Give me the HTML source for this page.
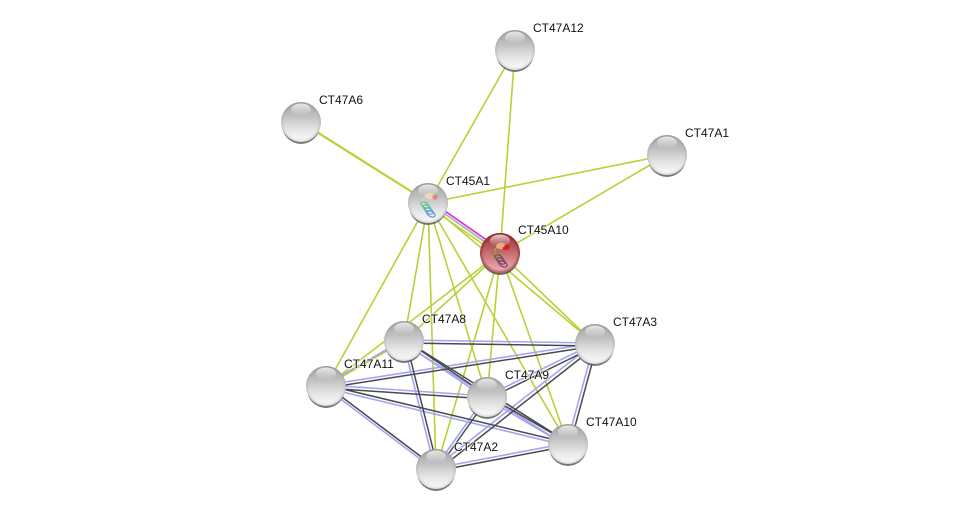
<!DOCTYPE html>
<html>
<head>
<meta charset="utf-8">
<style>
html,body{margin:0;padding:0;background:#fff;width:975px;height:514px;overflow:hidden}
svg{display:block}
text{font-family:"Liberation Sans",sans-serif;font-size:12px;fill:#111;paint-order:stroke;stroke:rgba(255,255,255,.65);stroke-width:2px}
.g{stroke:#b6d335;stroke-width:1.6;fill:none}
.b{stroke:#a4a4f6;stroke-width:1.6;fill:none}
.d{stroke:#4a4a4a;stroke-width:1.5;fill:none}
</style>
</head>
<body>
<svg width="975" height="514" viewBox="0 0 975 514" xmlns="http://www.w3.org/2000/svg">
<defs>
<linearGradient id="gs" x1="0" y1="0" x2="0" y2="1">
<stop offset="0" stop-color="#a2a2a2"/><stop offset=".35" stop-color="#c0c0c0"/><stop offset=".7" stop-color="#e6e6e6"/><stop offset="1" stop-color="#fbfbfb"/>
</linearGradient>
<radialGradient id="edge" cx=".5" cy=".5" r=".5">
<stop offset=".85" stop-color="#888" stop-opacity="0"/><stop offset="1" stop-color="#888" stop-opacity=".3"/>
</radialGradient>
<linearGradient id="hl" x1="0" y1="0" x2="0" y2="1">
<stop offset="0" stop-color="#fff" stop-opacity=".75"/><stop offset="1" stop-color="#fff" stop-opacity="0"/>
</linearGradient>
<linearGradient id="rs" x1="0" y1="0" x2="0" y2="1">
<stop offset="0" stop-color="#962e34"/><stop offset=".35" stop-color="#b8585e"/><stop offset=".7" stop-color="#d98a90"/><stop offset="1" stop-color="#eeb4b8"/>
</linearGradient>
<radialGradient id="redge" cx=".5" cy=".5" r=".5">
<stop offset=".82" stop-color="#7c1a1e" stop-opacity="0"/><stop offset="1" stop-color="#7c1a1e" stop-opacity=".6"/>
</radialGradient>
<g id="ball">
<ellipse cx="0" cy="3" rx="19" ry="19" fill="#555" opacity=".8"/>
<circle r="20" fill="url(#gs)"/>
<circle r="20" fill="url(#edge)"/>
<ellipse cx="0" cy="-12.5" rx="10" ry="6" fill="url(#hl)"/>
</g>
</defs>

<!-- green edges -->
<g class="g">
<line x1="428" y1="203" x2="515" y2="50"/>
<line x1="500" y1="253" x2="515" y2="50"/>
<line x1="428" y1="203" x2="667" y2="155"/>
<line x1="500" y1="253" x2="667" y2="155"/>
<line x1="301" y1="122" x2="428" y2="202" stroke-width="2.2"/>
<line x1="428" y1="202" x2="500" y2="253"/>
<line x1="428" y1="203" x2="404" y2="341"/>
<line x1="428" y1="203" x2="326" y2="386"/>
<line x1="428" y1="203" x2="436" y2="469"/>
<line x1="428" y1="203" x2="487" y2="397"/>
<line x1="428" y1="203" x2="568" y2="444"/>
<line x1="428" y1="203" x2="595" y2="344"/>
<line x1="428" y1="206" x2="500" y2="256"/>
<line x1="500" y1="253" x2="404" y2="341"/>
<line x1="500" y1="253" x2="326" y2="386"/>
<line x1="500" y1="253" x2="436" y2="469"/>
<line x1="500" y1="253" x2="487" y2="397"/>
<line x1="500" y1="253" x2="568" y2="444"/>
<line x1="500" y1="253" x2="595" y2="344"/>
<line x1="326" y1="386" x2="404" y2="341"/>
</g>
<line x1="429" y1="200" x2="501" y2="250" stroke="#d63fd6" stroke-width="1.7"/>
<line x1="428" y1="202" x2="500" y2="252" stroke="#a6a6f2" stroke-width="1.2"/>

<!-- blue edges -->
<g class="b">
<line x1="404" y1="340" x2="595" y2="343"/>
<line x1="326" y1="385" x2="595" y2="343"/>
<line x1="326" y1="385" x2="487" y2="396"/>
<line x1="326" y1="388" x2="568" y2="446"/>
<line x1="326" y1="388" x2="436" y2="471"/>
<line x1="325" y1="385" x2="403" y2="340"/>
<line x1="403" y1="341" x2="435" y2="469"/>
<line x1="404" y1="343" x2="487" y2="399"/>
<line x1="403" y1="343" x2="567" y2="446"/>
<line x1="487" y1="396" x2="595" y2="343"/>
<line x1="487" y1="399" x2="567" y2="446"/>
<line x1="486" y1="396" x2="435" y2="468"/>
<line x1="567" y1="444" x2="594" y2="344"/>
<line x1="568" y1="443" x2="436" y2="468"/>
<line x1="594" y1="343" x2="435" y2="468"/>
</g>
<!-- dark edges -->
<g class="d">
<line x1="404" y1="343" x2="595" y2="346"/>
<line x1="326" y1="388" x2="595" y2="346"/>
<line x1="326" y1="388" x2="487" y2="399"/>
<line x1="326" y1="385" x2="568" y2="443"/>
<line x1="326" y1="385" x2="436" y2="468"/>
<line x1="406" y1="341" x2="438" y2="469"/>
<line x1="405" y1="340" x2="488" y2="396"/>
<line x1="405" y1="340" x2="569" y2="443"/>
<line x1="488" y1="399" x2="596" y2="346"/>
<line x1="488" y1="396" x2="569" y2="443"/>
<line x1="488" y1="398" x2="437" y2="470"/>
<line x1="570" y1="445" x2="597" y2="345"/>
<line x1="568" y1="446" x2="436" y2="471"/>
<line x1="596" y1="346" x2="437" y2="471"/>
</g>

<!-- nodes -->
<use href="#ball" x="515" y="50"/>
<use href="#ball" x="301" y="122"/>
<use href="#ball" x="667" y="155"/>
<use href="#ball" x="428" y="203"/>
<use href="#ball" x="404" y="341"/>
<use href="#ball" x="595" y="344"/>
<use href="#ball" x="326" y="386"/>
<use href="#ball" x="487" y="397"/>
<use href="#ball" x="568" y="444"/>
<use href="#ball" x="436" y="469"/>

<!-- CT45A1 structure -->
<g transform="translate(428,207)">
<path d="M-4,-3 C-7,-8 -2,-11 0,-12" fill="none" stroke="#cfe3a8" stroke-width="1"/>
<ellipse cx="2" cy="-11" rx="5" ry="3.2" fill="#ecd9b8" opacity=".9"/>
<circle cx="7" cy="-10" r="2.6" fill="#e08a78"/>
<g fill="none" stroke-width="1.2">
<ellipse cx="-3" cy="-2" rx="4.5" ry="2.6" transform="rotate(30 -3 -2)" stroke="#66c47c"/>
<ellipse cx="-1" cy="1" rx="4.5" ry="2.6" transform="rotate(30 -1 1)" stroke="#5cc0a0"/>
<ellipse cx="1" cy="4" rx="4.5" ry="2.6" transform="rotate(30 1 4)" stroke="#58a8c8"/>
<ellipse cx="3" cy="7" rx="4.5" ry="2.6" transform="rotate(30 3 7)" stroke="#5c8fd8"/>
</g>
</g>

<!-- CT45A10 red node -->
<g transform="translate(500,253)">
<ellipse cx="0" cy="3" rx="19" ry="19" fill="#5a3a3a" opacity=".8"/>
<circle r="20" fill="url(#rs)"/>
<circle r="20" fill="url(#redge)"/>
<ellipse cx="0" cy="-12.5" rx="10" ry="6" fill="url(#hl)"/>
<g transform="translate(0,4)">
<path d="M-4,-3 C-7,-8 -2,-11 0,-12" fill="none" stroke="#c6a05e" stroke-width="1"/>
<ellipse cx="1" cy="-11" rx="5" ry="3.2" fill="#e8b48e" opacity=".9"/>
<circle cx="7" cy="-10" r="2.8" fill="#d8201e"/>
<circle cx="4.5" cy="-8.5" r="1.8" fill="#d8201e"/>
<g fill="none" stroke-width="1.2">
<ellipse cx="-3" cy="-2" rx="4.5" ry="2.6" transform="rotate(30 -3 -2)" stroke="#7a8a3c"/>
<ellipse cx="-1" cy="1" rx="4.5" ry="2.6" transform="rotate(30 -1 1)" stroke="#6a5a3a"/>
<ellipse cx="1" cy="4" rx="4.5" ry="2.6" transform="rotate(30 1 4)" stroke="#6a4a5a"/>
<ellipse cx="3" cy="7" rx="4.5" ry="2.6" transform="rotate(30 3 7)" stroke="#7a3a86"/>
</g>
</g>
</g>

<!-- labels -->
<text x="533" y="32">CT47A12</text>
<text x="319" y="104">CT47A6</text>
<text x="685" y="137">CT47A1</text>
<text x="446" y="185">CT45A1</text>
<text x="518" y="234">CT45A10</text>
<text x="422" y="323">CT47A8</text>
<text x="613" y="326">CT47A3</text>
<text x="344" y="368">CT47A11</text>
<text x="505" y="379">CT47A9</text>
<text x="586" y="426">CT47A10</text>
<text x="454" y="451">CT47A2</text>
</svg>
</body>
</html>
